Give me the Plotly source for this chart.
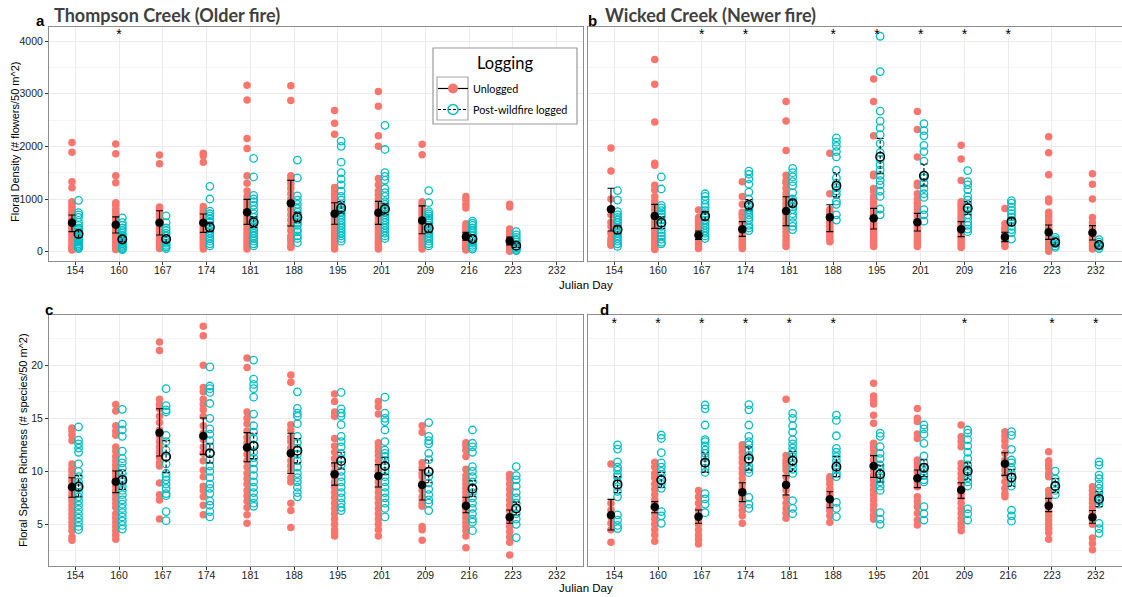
import plotly.graph_objects as go

# ---------------- data ----------------
DAYS = ["154", "160", "167", "174", "181", "188", "195", "201", "209", "216", "223", "232"]

# Panel a: Thompson Creek, floral density (# flowers / 50 m^2)
TC_DENS_U = [
    [2075, 1890, 1330, 1215, 950, 900, 850, 800, 750, 700, 650, 600, 550, 500, 450, 400, 350, 300, 250, 200, 150, 100, 80, 50, 30],
    [2045, 1860, 1440, 1310, 930, 880, 800, 740, 700, 650, 600, 540, 480, 420, 380, 330, 280, 230, 180, 140, 100, 70, 40],
    [1835, 1670, 850, 800, 750, 700, 650, 600, 550, 500, 450, 400, 350, 300, 250, 200, 150, 100, 60],
    [1870, 1820, 1700, 860, 800, 750, 700, 650, 600, 550, 500, 450, 400, 350, 300, 250, 200, 150, 100, 50],
    [3160, 2880, 2150, 1960, 1440, 1300, 1150, 1050, 980, 920, 860, 800, 740, 680, 620, 560, 500, 440, 380, 320, 260, 200, 150, 100, 50],
    [3150, 2870, 1440, 1370, 1290, 1200, 1100, 1000, 900, 800, 700, 600, 500, 400, 300, 250, 200, 120, 80],
    [2680, 2440, 2230, 1220, 1170, 1100, 1050, 980, 920, 860, 800, 740, 680, 620, 560, 500, 440, 380, 320, 260, 200, 150, 100, 50],
    [3040, 2760, 2200, 2000, 1390, 1270, 1150, 1080, 1000, 930, 870, 800, 740, 680, 620, 560, 500, 440, 380, 320, 260, 200, 150, 100, 50],
    [2040, 1840, 950, 900, 850, 800, 750, 700, 650, 600, 550, 500, 450, 400, 350, 300, 250, 200, 150, 100, 50],
    [1050, 980, 900, 830, 530, 480, 430, 380, 330, 280, 230, 180, 140, 100, 60, 30],
    [900, 850, 430, 380, 330, 290, 250, 210, 170, 130, 100, 70, 40, 10],
    [],
]
TC_DENS_L = [
    [975, 740, 700, 650, 560, 500, 450, 420, 380, 350, 320, 300, 270, 250, 220, 200, 180, 150, 120, 100, 80, 60],
    [640, 550, 500, 450, 400, 350, 300, 270, 240, 210, 180, 150, 120, 100, 80, 60, 40],
    [680, 550, 450, 400, 350, 300, 250, 200, 160, 120, 90, 60],
    [1240, 1000, 770, 720, 680, 620, 560, 500, 450, 400, 350, 300, 250, 200, 150, 110],
    [1770, 1420, 1070, 1000, 950, 880, 800, 720, 650, 600, 550, 500, 450, 400, 350, 300, 250, 200, 150, 110],
    [1740, 1400, 1060, 980, 900, 820, 750, 700, 650, 600, 550, 500, 420, 380, 300, 250, 170],
    [2100, 2000, 1700, 1500, 1380, 1270, 1150, 1050, 980, 900, 850, 800, 750, 700, 650, 600, 550, 500, 450, 400, 350, 300, 250, 200],
    [2400, 1940, 1500, 1430, 1360, 1200, 1120, 1050, 950, 900, 850, 800, 750, 700, 650, 600, 550, 500, 450, 400, 350, 300, 250],
    [1160, 930, 760, 720, 680, 640, 600, 550, 500, 450, 400, 350, 300, 250, 200, 150, 110],
    [580, 540, 500, 450, 400, 350, 300, 250, 200, 160, 120, 80, 50],
    [380, 320, 270, 220, 180, 140, 100, 70, 40, 20],
    [],
]
TC_DENS_U_MEAN = [550, 510, 550, 550, 750, 920, 720, 740, 590, 290, 205, None]
TC_DENS_U_LO = [380, 355, 316, 367, 519, 487, 520, 519, 340, 220, 130, None]
TC_DENS_U_HI = [696, 660, 778, 715, 994, 1354, 930, 955, 870, 370, 280, None]
TC_DENS_L_MEAN = [335, 234, 240, 462, 557, 652, 829, 810, 443, 240, 114, None]
TC_DENS_L_LO = [270, 190, 180, 380, 460, 560, 720, 700, 360, 200, 80, None]
TC_DENS_L_HI = [400, 280, 300, 550, 660, 750, 950, 920, 530, 290, 150, None]
TC_DENS_STARS = ["160"]

# Panel b: Wicked Creek, floral density
WC_DENS_U = [
    [1970, 1530, 1000, 800, 700, 560, 480, 350, 250, 200, 150, 120],
    [3650, 3180, 2460, 1680, 1640, 1260, 1170, 1050, 960, 880, 800, 720, 650, 580, 500, 430, 360, 300, 240, 180, 120, 70, 40],
    [790, 650, 600, 550, 500, 440, 380, 320, 260, 200, 150, 100, 60],
    [1330, 1050, 900, 750, 700, 650, 550, 450, 380, 300, 250, 200, 150, 100, 60],
    [2850, 2480, 1920, 1450, 1350, 1300, 1200, 1100, 1000, 920, 850, 780, 700, 620, 540, 460, 380, 300, 220, 150, 100],
    [1870, 1100, 800, 750, 700, 650, 600, 540, 480, 420, 360, 300, 240, 190],
    [3280, 2850, 2200, 1470, 1440, 1200, 1150, 1050, 1000, 940, 880, 800, 740, 680, 620, 560, 500, 440, 380, 320, 260, 200, 140, 100],
    [2660, 2320, 1800, 1300, 1250, 1100, 1000, 920, 860, 800, 740, 680, 620, 560, 500, 440, 380, 320, 260, 200, 150, 100],
    [2020, 1760, 1350, 950, 900, 850, 780, 720, 660, 600, 540, 480, 420, 360, 300, 240, 180, 130, 80],
    [820, 530, 450, 400, 350, 300, 250, 200, 150, 100],
    [2180, 1880, 1460, 1000, 950, 750, 700, 650, 580, 520, 460, 400, 340, 280, 220, 160, 100, 50, 10],
    [1480, 1280, 1000, 650, 550, 450, 380, 320, 260, 200, 150, 100, 50],
]
WC_DENS_L = [
    [1160, 980, 760, 700, 650, 600, 550, 500, 450, 400, 350, 300, 250, 200, 150, 100],
    [1420, 1190, 880, 830, 780, 720, 660, 600, 540, 480, 420, 360, 300, 240, 180, 150],
    [1100, 1050, 980, 900, 850, 780, 720, 660, 600, 550, 500, 450, 400, 350, 300, 250],
    [1530, 1470, 1380, 1280, 1130, 1000, 900, 850, 800, 760, 700, 650, 600, 500, 450, 400],
    [1580, 1500, 1420, 1330, 1250, 1120, 1000, 950, 900, 850, 800, 720, 650, 550, 480, 420],
    [2160, 2080, 2000, 1900, 1800, 1550, 1400, 1300, 1220, 1150, 1080, 960, 900, 700, 600],
    [4090, 3420, 2670, 2480, 2350, 2220, 2050, 1880, 1750, 1650, 1550, 1450, 1350, 1270, 1150, 1050, 810, 700],
    [2430, 2300, 2200, 2020, 1900, 1720, 1450, 1400, 1300, 1200, 1100, 1030, 800, 700, 580],
    [1540, 1330, 1270, 1180, 1050, 980, 900, 850, 780, 700, 640, 560, 500, 430, 380],
    [970, 920, 850, 780, 720, 660, 600, 550, 480, 420, 360, 240],
    [270, 230, 190, 150, 110, 80],
    [230, 180, 140, 100, 60],
]
WC_DENS_U_MEAN = [804, 677, 310, 424, 772, 652, 633, 557, 424, 278, 367, 361]
WC_DENS_U_LO = [392, 443, 234, 291, 494, 380, 430, 392, 285, 190, 234, 222]
WC_DENS_U_HI = [1203, 899, 392, 570, 1044, 890, 823, 728, 570, 370, 506, 494]
WC_DENS_L_MEAN = [418, 550, 677, 886, 918, 1253, 1804, 1443, 823, 570, 177, 127]
WC_DENS_L_LO = [340, 440, 600, 790, 860, 1044, 1480, 1247, 700, 500, 130, 90]
WC_DENS_L_HI = [490, 660, 760, 990, 980, 1500, 2150, 1665, 950, 640, 230, 170]
WC_DENS_STARS = ["167", "174", "188", "195", "201", "209", "216"]

# Panel c: Thompson Creek, floral species richness (# species / 50 m^2)
TC_RICH_U = [
    [14.1, 13.8, 13.4, 12.9, 10.7, 10.3, 10.0, 9.6, 9.3, 9.0, 8.6, 8.2, 7.8, 7.5, 7.2, 6.8, 6.4, 6.0, 5.6, 5.2, 4.8, 4.4, 3.8, 3.5],
    [16.3, 15.7, 14.3, 13.8, 13.4, 12.3, 11.9, 11.4, 11.0, 10.6, 10.2, 9.8, 9.4, 9.0, 8.6, 8.2, 7.8, 7.4, 7.0, 6.6, 6.0, 5.6, 5.2, 4.8, 4.4, 4.0, 3.6],
    [22.2, 21.4, 16.8, 16.3, 15.9, 15.2, 14.6, 13.9, 13.3, 12.8, 12.3, 11.8, 11.3, 10.8, 10.5, 8.9, 7.8, 7.3, 5.5],
    [23.7, 22.8, 20.0, 17.9, 17.5, 16.8, 16.3, 15.8, 15.2, 14.3, 13.6, 13.0, 12.3, 11.7, 11.0, 10.1, 9.5, 8.6, 8.2, 7.6, 6.8, 5.9],
    [20.7, 19.8, 15.6, 15.0, 14.5, 13.8, 13.2, 12.7, 12.1, 11.6, 11.0, 10.4, 9.8, 9.3, 8.8, 8.2, 7.7, 7.2, 6.6, 5.9, 5.1],
    [19.1, 18.4, 14.4, 13.9, 13.2, 12.8, 12.2, 11.6, 11.0, 10.5, 10.0, 9.4, 9.0, 7.0, 6.3, 4.7],
    [17.3, 16.6, 15.6, 15.2, 13.1, 12.4, 11.8, 11.2, 10.6, 10.0, 9.5, 9.0, 8.5, 8.0, 7.5, 7.0, 6.5, 6.0, 5.5, 5.0, 4.5, 4.2, 3.9],
    [16.6, 16.1, 15.4, 12.7, 12.3, 11.9, 11.5, 11.0, 10.5, 10.0, 9.5, 9.0, 8.5, 8.0, 7.5, 7.0, 6.5, 6.0, 5.5, 5.0, 4.5, 3.9],
    [14.3, 13.7, 10.8, 10.35, 9.8, 9.5, 8.9, 8.2, 7.6, 7.0, 6.7, 4.8, 4.5, 3.5],
    [12.7, 12.4, 12.0, 11.4, 10.2, 9.6, 9.2, 8.8, 8.4, 8.0, 7.6, 7.2, 6.8, 6.4, 6.0, 5.6, 5.2, 4.8, 4.4, 3.9, 2.8],
    [9.7, 9.3, 8.8, 8.3, 7.8, 7.3, 6.8, 6.3, 5.8, 5.3, 4.8, 4.3, 3.8, 3.3, 2.1],
    [],
]
TC_RICH_L = [
    [14.2, 12.95, 12.6, 12.2, 11.8, 10.7, 10.0, 9.5, 9.0, 8.7, 8.4, 8.0, 7.6, 7.2, 6.8, 6.4, 6.0, 5.6, 5.2, 4.8, 4.5],
    [15.85, 14.45, 13.9, 13.3, 11.9, 11.2, 10.8, 10.3, 9.8, 9.4, 9.0, 8.6, 8.2, 7.8, 7.3, 6.9, 6.5, 6.1, 5.7, 5.3, 4.9, 4.55],
    [17.8, 16.2, 15.8, 15.6, 13.4, 12.8, 12.0, 11.3, 10.7, 9.8, 9.5, 9.2, 8.8, 8.4, 7.9, 7.7, 6.2, 5.35],
    [19.85, 18.05, 17.8, 17.45, 16.4, 15.0, 14.0, 13.5, 12.9, 12.3, 11.7, 11.1, 10.5, 10.0, 9.4, 8.8, 8.4, 7.9, 7.2, 6.8, 6.2, 5.7],
    [20.5, 18.7, 18.2, 17.8, 17.0, 15.4, 14.3, 13.7, 13.1, 12.5, 11.8, 11.3, 10.8, 10.2, 9.6, 9.0, 8.5, 8.0, 7.5, 7.0, 6.7],
    [17.5, 15.95, 15.5, 15.2, 14.5, 13.3, 12.7, 12.2, 11.6, 11.0, 10.4, 9.8, 9.4, 9.0, 8.5, 8.0, 7.6],
    [17.45, 15.9, 15.5, 15.2, 14.4, 13.3, 12.8, 12.3, 11.7, 11.2, 10.6, 10.0, 9.5, 9.0, 8.5, 8.0, 7.5, 7.0, 6.6, 6.3],
    [17.0, 15.5, 15.0, 14.7, 13.9, 12.8, 12.0, 11.7, 11.4, 11.0, 10.5, 10.0, 9.5, 9.0, 8.5, 8.0, 7.5, 7.0, 6.5, 5.7],
    [14.6, 13.3, 12.9, 12.6, 11.7, 11.1, 10.0, 9.5, 8.9, 8.3, 7.8, 7.3, 7.0, 6.3],
    [13.9, 12.65, 12.3, 11.8, 10.45, 10.0, 9.5, 9.0, 8.5, 8.0, 7.5, 7.0, 6.5, 6.0, 5.5, 5.2, 4.4],
    [10.45, 9.6, 9.2, 8.6, 8.0, 7.5, 7.0, 6.5, 6.0, 5.5, 5.0, 3.75],
    [],
]
TC_RICH_U_MEAN = [8.52, 9.03, 13.65, 13.33, 12.26, 11.7, 9.72, 9.56, 8.71, 6.76, 5.66, None]
TC_RICH_U_LO = [7.55, 7.99, 11.45, 11.6, 10.9, 9.8, 8.7, 8.52, 7.3, 6.1, 5.1, None]
TC_RICH_U_HI = [9.4, 10.03, 15.9, 15.03, 13.65, 13.6, 10.8, 10.63, 10.13, 7.55, 6.35, None]
TC_RICH_L_MEAN = [8.55, 9.18, 11.4, 11.7, 12.4, 11.95, 10.97, 10.5, 9.97, 8.36, 6.5, None]
TC_RICH_L_LO = [7.6, 8.3, 9.9, 10.8, 11.2, 10.8, 10.2, 9.7, 8.93, 7.6, 5.9, None]
TC_RICH_L_HI = [9.6, 10.1, 12.9, 12.6, 13.6, 13.1, 11.8, 11.3, 11.07, 9.1, 7.1, None]
TC_RICH_STARS = []

# Panel d: Wicked Creek, floral species richness
WC_RICH_U = [
    [10.7, 7.0, 6.35, 5.7, 5.1, 4.5, 3.3],
    [10.85, 10.4, 9.8, 9.4, 8.8, 8.3, 7.8, 7.3, 6.9, 6.0, 5.5, 5.0, 4.5, 4.0, 3.4],
    [8.2, 7.6, 7.0, 6.4, 5.9, 5.4, 5.0, 4.5, 4.0, 3.6, 3.15],
    [12.5, 12.2, 11.8, 11.3, 10.8, 10.3, 9.8, 9.3, 8.8, 8.3, 7.8, 7.3, 6.8, 6.3, 5.8, 5.1],
    [16.8, 11.5, 11.07, 10.75, 10.44, 10.13, 9.5, 8.87, 8.24, 7.6, 6.98, 6.5, 6.04, 5.57],
    [9.5, 9.2, 8.8, 8.3, 7.8, 7.3, 6.8, 6.3, 5.8, 5.2],
    [18.3, 17.1, 16.73, 16.35, 15.3, 14.53, 12.64, 12.33, 12.0, 11.54, 11.07, 10.6, 10.13, 9.65, 9.18, 8.7, 8.24, 7.77, 7.3, 6.82, 6.35, 5.88, 5.47],
    [15.94, 15.0, 14.7, 13.52, 13.1, 11.07, 10.75, 10.44, 9.97, 9.5, 9.03, 8.55, 7.6, 7.14, 6.67, 6.04, 5.4, 4.94],
    [14.37, 13.27, 12.8, 12.33, 10.75, 10.28, 9.8, 9.34, 8.87, 8.4, 7.92, 7.45, 6.98, 6.5, 6.04, 5.57, 5.1, 4.78, 4.4],
    [13.74, 13.33, 12.89, 12.39, 11.7, 11.07, 10.6, 10.13, 9.65, 9.03, 8.4, 7.92, 7.6],
    [11.86, 11.0, 10.6, 10.3, 9.8, 9.5, 8.2, 7.8, 7.4, 7.0, 6.6, 6.2, 5.8, 5.4, 5.0, 4.6, 4.2, 3.6],
    [8.55, 8.2, 7.8, 7.4, 7.0, 6.6, 6.2, 5.8, 5.4, 5.0, 3.7, 3.2, 2.6],
]
WC_RICH_L = [
    [12.5, 12.1, 10.9, 10.4, 10.1, 9.7, 9.5, 9.0, 8.55, 8.1, 7.6, 5.9, 5.4, 4.9, 4.6],
    [13.43, 13.1, 11.76, 10.8, 10.4, 10.0, 9.6, 9.2, 8.8, 8.4, 6.2, 5.8, 5.1],
    [16.26, 15.9, 14.37, 13.0, 12.8, 12.4, 12.0, 11.7, 11.3, 10.8, 10.3, 9.9, 7.9, 7.4, 6.9, 6.1],
    [16.3, 15.8, 14.37, 13.3, 12.8, 12.5, 12.0, 11.5, 11.0, 10.5, 10.2, 9.87, 7.55, 6.9, 6.5],
    [15.47, 15.0, 14.3, 13.7, 13.0, 12.6, 12.2, 11.8, 11.4, 11.0, 10.6, 10.2, 9.8, 7.23, 6.5, 6.0],
    [15.3, 14.8, 13.36, 12.17, 11.8, 11.4, 11.0, 10.6, 10.2, 9.8, 9.5, 7.07, 6.5, 5.72],
    [13.6, 13.3, 12.33, 11.7, 11.2, 10.6, 10.2, 9.8, 9.4, 9.0, 8.6, 8.2, 6.1, 5.5, 5.0],
    [14.37, 14.0, 13.5, 12.64, 11.45, 10.8, 10.4, 10.0, 9.6, 9.2, 9.0, 6.67, 6.0, 5.4],
    [13.9, 13.6, 13.0, 12.4, 11.8, 11.2, 10.6, 10.2, 9.8, 9.4, 9.0, 8.6, 6.45, 6.0, 5.4],
    [13.74, 13.4, 12.08, 11.07, 10.8, 10.3, 9.8, 9.4, 9.0, 8.6, 6.35, 5.8, 5.3],
    [10.03, 9.3, 9.0, 8.6, 8.2, 7.8],
    [10.9, 10.6, 9.65, 9.3, 8.8, 8.4, 8.0, 7.6, 7.2, 6.9, 5.1, 4.6, 4.15],
]
WC_RICH_U_MEAN = [5.88, 6.64, 5.72, 8.02, 8.71, 7.36, 10.5, 9.34, 8.24, 10.72, 6.76, 5.66]
WC_RICH_U_LO = [4.47, 6.1, 5.1, 7.14, 7.77, 6.57, 9.43, 8.46, 7.45, 9.62, 6.2, 5.1]
WC_RICH_U_HI = [7.36, 7.14, 6.35, 8.93, 9.6, 8.08, 11.48, 10.13, 8.93, 11.76, 7.45, 6.3]
WC_RICH_L_MEAN = [8.77, 9.18, 10.82, 11.2, 11.0, 10.44, 9.72, 10.35, 10.03, 9.43, 8.62, 7.4]
WC_RICH_L_LO = [8.0, 8.5, 9.9, 10.1, 10.0, 9.5, 9.0, 9.5, 9.2, 8.6, 8.0, 6.67]
WC_RICH_L_HI = [9.5, 9.9, 11.8, 12.3, 11.9, 11.4, 10.6, 11.1, 10.8, 10.2, 9.3, 8.08]
WC_RICH_STARS = ["154", "160", "167", "174", "181", "188", "209", "223", "232"]

PANEL_LETTERS = ["a", "b", "c", "d"]
PANEL_TITLES = ["Thompson Creek (Older fire)", "Wicked Creek (Newer fire)", "", ""]
GROUP_NAMES = ["Unlogged", "Post-wildfire logged"]
Y_TITLES = ["Floral Density (# flowers/50 m^2)", "Floral Species Richness (# species/50 m^2)"]
X_TITLE = "Julian Day"
LEGEND_TITLE = "Logging"

# ---------------- style ----------------
W, H = 1122, 597
RED = "#F8766D"
CYAN = "#00BFC4"
DODGE = 0.075
CAP = 0.08
FONT = "Liberation Sans, Arial, sans-serif"
TITLE_FONT = "Lato, Open Sans, sans-serif"


def fx(p):
    return p / W


def fy(p):
    return 1 - p / H


panels = [
    dict(u=TC_DENS_U, l=TC_DENS_L, um=TC_DENS_U_MEAN, ulo=TC_DENS_U_LO, uhi=TC_DENS_U_HI,
         lm=TC_DENS_L_MEAN, llo=TC_DENS_L_LO, lhi=TC_DENS_L_HI, stars=TC_DENS_STARS,
         dom_x=(49, 583), dom_y=(27, 261), star_y=4110),
    dict(u=WC_DENS_U, l=WC_DENS_L, um=WC_DENS_U_MEAN, ulo=WC_DENS_U_LO, uhi=WC_DENS_U_HI,
         lm=WC_DENS_L_MEAN, llo=WC_DENS_L_LO, lhi=WC_DENS_L_HI, stars=WC_DENS_STARS,
         dom_x=(588, 1122), dom_y=(27, 261), star_y=4110),
    dict(u=TC_RICH_U, l=TC_RICH_L, um=TC_RICH_U_MEAN, ulo=TC_RICH_U_LO, uhi=TC_RICH_U_HI,
         lm=TC_RICH_L_MEAN, llo=TC_RICH_L_LO, lhi=TC_RICH_L_HI, stars=TC_RICH_STARS,
         dom_x=(49, 583), dom_y=(315, 566), star_y=23.9),
    dict(u=WC_RICH_U, l=WC_RICH_L, um=WC_RICH_U_MEAN, ulo=WC_RICH_U_LO, uhi=WC_RICH_U_HI,
         lm=WC_RICH_L_MEAN, llo=WC_RICH_L_LO, lhi=WC_RICH_L_HI, stars=WC_RICH_STARS,
         dom_x=(588, 1122), dom_y=(315, 566), star_y=23.9),
]

fig = go.Figure()

for k, p in enumerate(panels):
    xa = "x" if k == 0 else "x%d" % (k + 1)
    ya = "y" if k == 0 else "y%d" % (k + 1)
    # raw points
    for vals, off, mk in [
        (p["u"], -DODGE, dict(color=RED, size=7.5, symbol="circle", line=dict(width=0))),
        (p["l"], DODGE, dict(color=CYAN, size=7.5, symbol="circle-open", line=dict(width=1.3))),
    ]:
        xs, ys = [], []
        for i, day_vals in enumerate(vals):
            for v in day_vals:
                xs.append(i + off)
                ys.append(v)
        fig.add_trace(go.Scatter(x=xs, y=ys, mode="markers", marker=mk,
                                 xaxis=xa, yaxis=ya, showlegend=False, hoverinfo="skip"))
    # unlogged mean + solid error bars
    xs_u, ym, ep, em = [], [], [], []
    for i, m in enumerate(p["um"]):
        if m is None:
            continue
        xs_u.append(i - DODGE)
        ym.append(m)
        ep.append(p["uhi"][i] - m)
        em.append(m - p["ulo"][i])
    fig.add_trace(go.Scatter(
        x=xs_u, y=ym, mode="markers",
        marker=dict(color="black", size=8.5, symbol="circle"),
        error_y=dict(type="data", array=ep, arrayminus=em, symmetric=False,
                     color="black", thickness=1.1, width=3.5),
        xaxis=xa, yaxis=ya, showlegend=False, hoverinfo="skip"))
    # logged dashed error bars
    ex, ey = [], []
    for i, m in enumerate(p["lm"]):
        if m is None:
            continue
        xc = i + DODGE
        lo, hi = p["llo"][i], p["lhi"][i]
        ex += [xc, xc, None, xc - CAP, xc + CAP, None, xc - CAP, xc + CAP, None]
        ey += [lo, hi, None, lo, lo, None, hi, hi, None]
    fig.add_trace(go.Scatter(x=ex, y=ey, mode="lines",
                             line=dict(color="black", width=1.1, dash="3px,2px"),
                             xaxis=xa, yaxis=ya, showlegend=False, hoverinfo="skip"))
    xs_l, yl = [], []
    for i, m in enumerate(p["lm"]):
        if m is None:
            continue
        xs_l.append(i + DODGE)
        yl.append(m)
    fig.add_trace(go.Scatter(
        x=xs_l, y=yl, mode="markers",
        marker=dict(color="black", size=8.5, symbol="circle-open", line=dict(width=1.5)),
        xaxis=xa, yaxis=ya, showlegend=False, hoverinfo="skip"))
    # significance stars
    if p["stars"]:
        fig.add_trace(go.Scatter(
            x=[DAYS.index(d) for d in p["stars"]], y=[p["star_y"]] * len(p["stars"]),
            mode="text", text=["*"] * len(p["stars"]),
            textfont=dict(family=FONT, size=14, color="black"),
            xaxis=xa, yaxis=ya, showlegend=False, hoverinfo="skip"))

# legend-only keys
fig.add_trace(go.Scatter(x=[None], y=[None], mode="lines+markers", name=GROUP_NAMES[0],
                         legendgroup="u",
                         line=dict(color="black", width=1.2),
                         marker=dict(color=RED, size=10, symbol="circle")))
fig.add_trace(go.Scatter(x=[None], y=[None], mode="lines+markers", name=GROUP_NAMES[1],
                         legendgroup="l",
                         line=dict(color="black", width=1.2, dash="3px,2px"),
                         marker=dict(color=CYAN, size=10, symbol="circle-open", line=dict(width=1.5))))

axis_common = dict(showline=True, mirror=True, linecolor="#8c8c8c", linewidth=1,
                   gridcolor="#EBEBEB", gridwidth=1, zeroline=False,
                   ticks="outside", ticklen=3, tickcolor="#333333", tickwidth=1,
                   tickfont=dict(family=FONT, size=10.5, color="#222222"))

layout = dict(width=W, height=H, margin=dict(l=0, r=0, t=0, b=0),
              paper_bgcolor="white", plot_bgcolor="white", showlegend=True)

for k, p in enumerate(panels):
    xkey = "xaxis" if k == 0 else "xaxis%d" % (k + 1)
    ykey = "yaxis" if k == 0 else "yaxis%d" % (k + 1)
    yname = "y" if k == 0 else "y%d" % (k + 1)
    xname = "x" if k == 0 else "x%d" % (k + 1)
    x0, x1 = p["dom_x"]
    y0, y1 = p["dom_y"]
    layout[xkey] = dict(axis_common, domain=[fx(x0), fx(x1)], anchor=yname,
                        range=[-0.6, 11.6], tickmode="array",
                        tickvals=list(range(len(DAYS))), ticktext=DAYS, showgrid=True,
                        ticklabelstandoff=-4)
    if k < 2:
        yr = [-177, 4266]
        ytick = dict(tick0=0, dtick=1000, minor=dict(dtick=500, showgrid=True, gridcolor="#F4F4F4"))
    else:
        yr = [1.07, 24.75]
        ytick = dict(tick0=0, dtick=5, minor=dict(dtick=2.5, showgrid=True, gridcolor="#F4F4F4"))
    layout[ykey] = dict(axis_common, domain=[fy(y1), fy(y0)], anchor=xname, range=yr,
                        showticklabels=(k % 2 == 0), **ytick)
    if k % 2 == 1:
        layout[ykey]["ticks"] = ""

# legend box drawn as shapes (background + key frame); legend itself transparent
LEG_BOX = (433, 48, 577, 124)
KEY_BOX = (437, 77, 468, 120)
layout["shapes"] = [
    dict(type="rect", xref="paper", yref="paper", layer="above",
         x0=fx(LEG_BOX[0]), x1=fx(LEG_BOX[2]), y0=fy(LEG_BOX[3]), y1=fy(LEG_BOX[1]),
         fillcolor="white", line=dict(color="#9a9a9a", width=1.2)),
    dict(type="rect", xref="paper", yref="paper", layer="above",
         x0=fx(KEY_BOX[0]), x1=fx(KEY_BOX[2]), y0=fy(KEY_BOX[3]), y1=fy(KEY_BOX[1]),
         fillcolor="rgba(0,0,0,0)", line=dict(color="#a8a8a8", width=1.2)),
]
layout["legend"] = dict(
    x=fx(433), y=fy(74), xanchor="left", yanchor="top",
    bgcolor="rgba(0,0,0,0)", borderwidth=0,
    font=dict(family=TITLE_FONT, size=10.8, color="black"),
    itemwidth=30, tracegroupgap=2)

ann = []
ann.append(dict(text=LEGEND_TITLE, x=fx(505), y=fy(63), xref="paper", yref="paper",
                showarrow=False, xanchor="center", yanchor="middle",
                font=dict(family=TITLE_FONT, size=16.5, color="black")))
letter_pos = [(40, 20), (592, 20), (49, 309), (604, 309)]
for k in range(4):
    lx, ly = letter_pos[k]
    ann.append(dict(text="<b>%s</b>" % PANEL_LETTERS[k], x=fx(lx), y=fy(ly), xref="paper", yref="paper",
                    showarrow=False, xanchor="center", yanchor="middle",
                    font=dict(family=FONT, size=15, color="black")))
title_pos = [(52, 15), (603, 15)]
for k in range(2):
    tx, ty = title_pos[k]
    ann.append(dict(text="<b>%s</b>" % PANEL_TITLES[k], x=fx(tx), y=fy(ty), xref="paper", yref="paper",
                    showarrow=False, xanchor="left", yanchor="middle",
                    font=dict(family=TITLE_FONT, size=18, color="#404040")))
for yy in (285, 588):
    ann.append(dict(text=X_TITLE, x=fx(586), y=fy(yy), xref="paper", yref="paper",
                    showarrow=False, xanchor="center", yanchor="middle",
                    font=dict(family=FONT, size=11.5, color="black")))
ann.append(dict(text=Y_TITLES[0], x=fx(15), y=fy(142), xref="paper", yref="paper", textangle=-90,
                showarrow=False, xanchor="center", yanchor="middle",
                font=dict(family=FONT, size=11, color="black")))
ann.append(dict(text=Y_TITLES[1], x=fx(23), y=fy(440), xref="paper", yref="paper", textangle=-90,
                showarrow=False, xanchor="center", yanchor="middle",
                font=dict(family=FONT, size=11, color="black")))
layout["annotations"] = ann

fig.update_layout(**layout)
fig.write_html("out.html")
